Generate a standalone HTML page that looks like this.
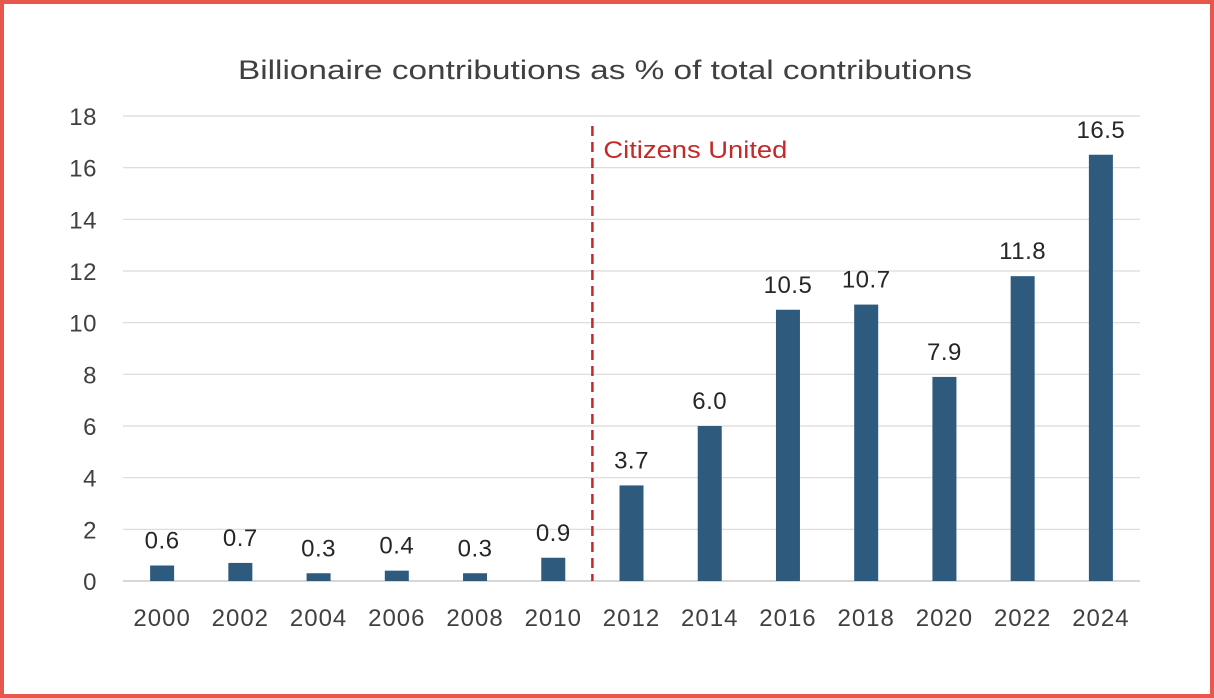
<!DOCTYPE html>
<html><head><meta charset="utf-8"><style>
html,body{margin:0;padding:0;background:#fff}
#frame{position:absolute;left:0;top:0;width:1206px;height:690px;border:4px solid #e8574c;background:#fff}
svg{position:absolute;left:0;top:0}
text{font-family:"Liberation Sans",sans-serif}
</style></head><body>
<div id="frame"></div>
<svg id="chart" width="1214" height="698">
<text x="605" y="79" text-anchor="middle" font-size="27" fill="#404040" textLength="734" lengthAdjust="spacingAndGlyphs">Billionaire contributions as % of total contributions</text>
</svg>
<script>
const categories=["2000","2002","2004","2006","2008","2010","2012","2014","2016","2018","2020","2022","2024"];
const values=[0.6,0.7,0.3,0.4,0.3,0.9,3.7,6.0,10.5,10.7,7.9,11.8,16.5];
const valueLabels=["0.6","0.7","0.3","0.4","0.3","0.9","3.7","6.0","10.5","10.7","7.9","11.8","16.5"];
const yTicks=[0,2,4,6,8,10,12,14,16,18];
const svg=document.getElementById('chart');
const NS='http://www.w3.org/2000/svg';
const x0=123,x1=1140,yBase=581,yTop=116,yMax=18;
const step=(x1-x0)/categories.length;
const y=v=>yBase-(v/yMax)*(yBase-yTop);
const xc=i=>x0+step*(i+0.5);
function mk(t,a){const e=document.createElementNS(NS,t);for(const k in a)e.setAttribute(k,a[k]);svg.appendChild(e);return e;}
yTicks.forEach(t=>{
  const g=mk('line',{x1:x0,x2:x1,y1:y(t),y2:y(t),stroke:t===0?'#bfbfbf':'#d9d9d9','stroke-width':1.2});
  
  
  const l=mk('text',{x:97,y:y(t)+9,'text-anchor':'end','font-size':24,fill:'#404040','letter-spacing':'0.5'});
  l.textContent=t;
  
  
});
categories.forEach((c,i)=>{
  const b=mk('rect',{x:xc(i)-12,y:y(values[i]),width:24,height:yBase-y(values[i]),fill:'#2e5a7d'});
  
  
  const v=mk('text',{x:xc(i),y:y(values[i])-17,'text-anchor':'middle','font-size':24,fill:'#262626','letter-spacing':'0.5'});
  v.textContent=valueLabels[i];
  
  
  const t=mk('text',{x:xc(i),y:626,'text-anchor':'middle','font-size':24,fill:'#404040','letter-spacing':'1'});
  t.textContent=c;
  
  
});
const dx=(xc(5)+xc(6))/2;
const d=mk('line',{x1:dx,x2:dx,y1:126,y2:yBase,stroke:'#c62828','stroke-width':2.5,'stroke-dasharray':'10,6'});


const ct=mk('text',{x:dx+11,y:158,'font-size':24,fill:'#c62828',textLength:184,lengthAdjust:'spacingAndGlyphs'});
ct.textContent='Citizens United';


</script>
</body></html>
